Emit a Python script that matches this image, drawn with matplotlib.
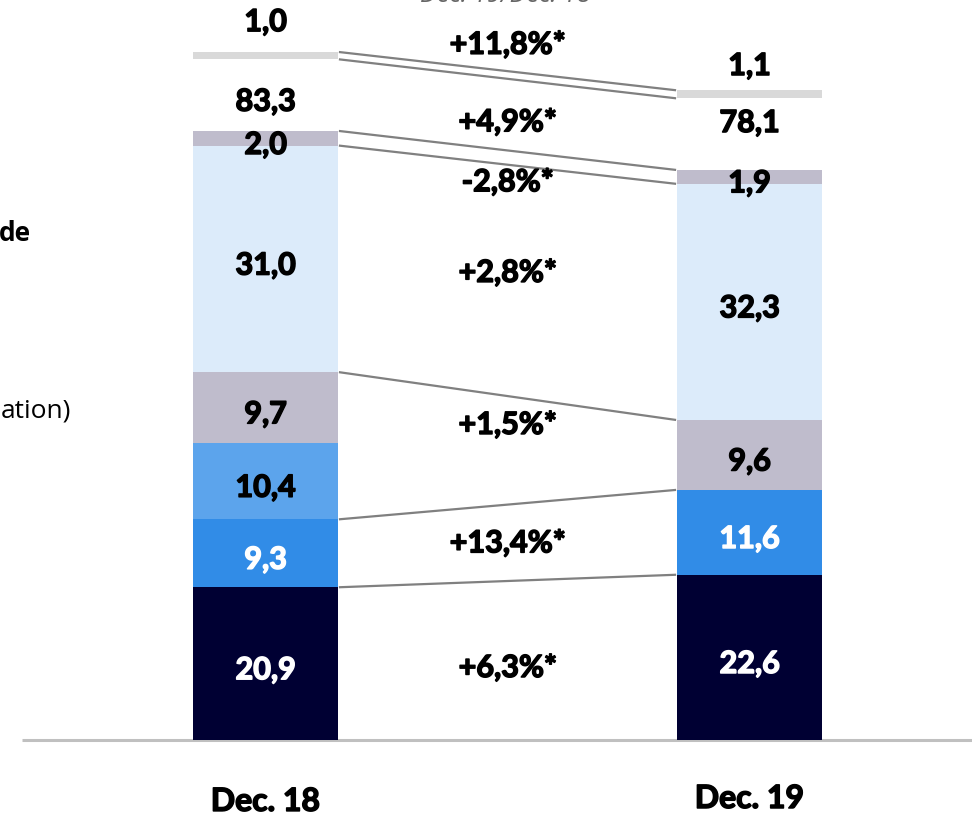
import numpy as np
import matplotlib
matplotlib.use("Agg")
import matplotlib.pyplot as plt
import matplotlib.patheffects as pe

plt.rcParams['font.family'] = ['Lato', 'DejaVu Sans']

periods = ["Dec. 18", "Dec. 19"]

# stacked segments, bottom to top
seg_dec18 = [20.9, 9.3, 10.4, 9.7, 31.0, 2.0]
seg_dec19 = [22.6, 11.6, 9.6, 32.3, 1.9]
col_dec18 = ["#000033", "#318CE7", "#5CA4EC", "#BFBCCC", "#DCEBFA", "#BFBCCC"]
col_dec19 = ["#000033", "#318CE7", "#BFBCCC", "#DCEBFA", "#BFBCCC"]
white_text18 = [True, True, False, False, False, False]
white_text19 = [True, True, False, False, False]

totals = [83.3, 78.1]
others = [1.0, 1.1]   # thin bar floating above the stack

# connector lines: (boundary index in Dec.18 stack, boundary index in Dec.19 stack)
links = [(1, 1), (2, 2), (4, 3), (5, 4), (6, 5)]

changes = ["+11,8%*", "+4,9%*", "-2,8%*", "+2,8%*", "+1,5%*", "+13,4%*", "+6,3%*"]
change_y = [95.1, 84.5, 76.3, 63.9, 43.1, 26.9, 9.85]

# layout
W, H = 972, 814
px_x = 484.0          # pixels per x unit (bar centre to bar centre)
px_y = 7.31           # pixels per value unit
base_px = 740
x0_px = 265.5
bar_w = 145 / px_x
gap = 9.8             # gap between stack and thin bar
total_off = [4.0, 6.4]
other_off = [4.1, 3.3]

fig = plt.figure(figsize=(W / 100, H / 100), dpi=100)
ax = fig.add_axes([0, 0, 1, 1])
ax.set_xlim(-x0_px / px_x, (W - x0_px) / px_x)
ax.set_ylim(-(H - base_px) / px_y, base_px / px_y)
ax.axis("off")

fs = 22


def heavy(color="black"):
    return [pe.withStroke(linewidth=1.1, foreground=color)]


def lbl(x, y, s, color="black", size=fs):
    ax.text(x, y, s, ha="center", va="center", fontsize=size, fontweight="bold",
            color=color, zorder=3, path_effects=heavy(color))


stacks = []
for i, (segs, cols, wt) in enumerate([(seg_dec18, col_dec18, white_text18),
                                      (seg_dec19, col_dec19, white_text19)]):
    cum = np.concatenate([[0], np.cumsum(segs)])
    stacks.append(cum)
    ax.bar([i] * len(segs), segs, bottom=cum[:-1], width=bar_w, color=cols,
           linewidth=0, zorder=2)
    for v, b, w in zip(segs, cum[:-1], wt):
        lbl(i, b + v / 2 - 0.9, f"{v:.1f}".replace(".", ","), "white" if w else "black")
    # thin bar
    ob = cum[-1] + gap
    ax.bar(i, others[i], bottom=ob, width=bar_w, color="#D9D9D9", linewidth=0, zorder=2)
    lbl(i, ob + others[i] + other_off[i], f"{others[i]:.1f}".replace(".", ","))
    lbl(i, cum[-1] + total_off[i], f"{totals[i]:.1f}".replace(".", ","))
    lbl(i, -8.4 + 0.4 * i, periods[i], size=23)

xa = bar_w / 2 + 2 / px_x
xb = 1 - bar_w / 2 - 2 / px_x
for a, b in links:
    ax.plot([xa, xb], [stacks[0][a], stacks[1][b]], color="#808080", lw=1.6, zorder=1)
# thin bar connectors
for k in (0, 1):
    ya = stacks[0][-1] + gap + k * others[0]
    yb = stacks[1][-1] + gap + k * others[1]
    ax.plot([xa, xb], [ya, yb], color="#808080", lw=1.6, zorder=1)

for lab, y in zip(changes, change_y):
    lbl(0.5, y, lab)

# baseline
ax.plot([(22 - x0_px) / px_x, (W - x0_px) / px_x], [0, 0], color="#C0C0C0", lw=2.2, zorder=1,
        solid_capstyle="butt")

# clipped texts at the edges
fig.text(31 / W, 1 - 241 / H, "de", ha="right", va="baseline", fontsize=19,
         fontweight="bold", family=["Open Sans", "DejaVu Sans"])
fig.text(71 / W, 1 - 418 / H, "ation)", ha="right", va="baseline", fontsize=19,
         family=["Open Sans", "DejaVu Sans"])
fig.text(505 / W, 1 - 1.5 / H, "Dec. 19/Dec. 18", ha="center", va="baseline", fontsize=18,
         style="italic", color="#666666", family=["Open Sans", "DejaVu Sans"])

fig.savefig("out.png", dpi=100)
